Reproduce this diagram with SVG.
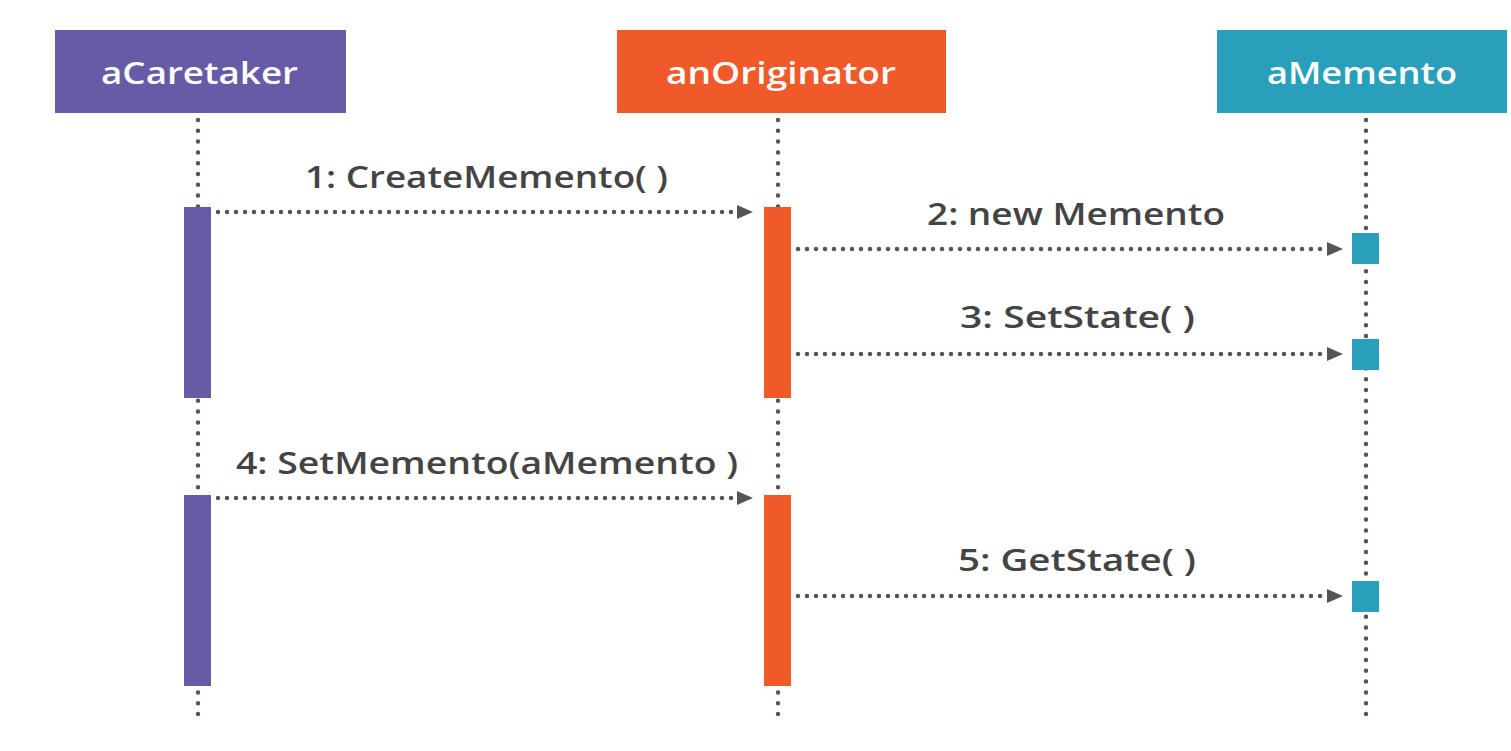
<svg xmlns="http://www.w3.org/2000/svg" width="1511" height="751" viewBox="0 0 1511 751">
<defs>
<style>
.hdr{font-family:"Open Sans","Liberation Sans",sans-serif;font-size:31px;font-weight:600;fill:#ffffff;text-anchor:middle}
.lbl{font-family:"Open Sans","Liberation Sans",sans-serif;font-size:31px;font-weight:600;fill:#444444;text-anchor:middle}
.life{stroke:#555555;stroke-width:4.5;stroke-linecap:round;stroke-dasharray:0 10.8;fill:none}
.msg{stroke:#555555;stroke-width:4.5;stroke-linecap:round;stroke-dasharray:0 9;fill:none}
.p{fill:#675BA7}.o{fill:#F05A2A}.t{fill:#2A9FBC}
.ah{fill:#555555}
</style>
</defs>
<rect width="1511" height="751" fill="#ffffff"/>
<g id="lifelines">
<line class="life" x1="198" y1="120" x2="198" y2="721"/>
<line class="life" x1="778" y1="120" x2="778" y2="721"/>
<line class="life" x1="1366" y1="120" x2="1366" y2="721"/>
</g>
<g id="aCaretaker">
<rect class="p" x="55" y="30" width="291" height="83"/>
<text class="hdr" x="199.5" y="84" textLength="197" lengthAdjust="spacingAndGlyphs">aCaretaker</text>
<rect class="p" x="184" y="207" width="27" height="191"/>
<rect class="p" x="184" y="495" width="27" height="191"/>
</g>
<g id="anOriginator">
<rect class="o" x="617" y="30" width="329" height="83"/>
<text class="hdr" x="781" y="84" textLength="230" lengthAdjust="spacingAndGlyphs">anOriginator</text>
<rect class="o" x="764" y="207" width="27" height="191"/>
<rect class="o" x="764" y="495" width="27" height="191"/>
</g>
<g id="aMemento">
<rect class="t" x="1217" y="30" width="290" height="83"/>
<text class="hdr" x="1362" y="84" textLength="190" lengthAdjust="spacingAndGlyphs">aMemento</text>
<rect class="t" x="1352" y="233" width="27" height="31"/>
<rect class="t" x="1352" y="339" width="27" height="31"/>
<rect class="t" x="1352" y="581" width="27" height="31"/>
</g>
<g id="connectors">
<line class="msg" x1="218" y1="212" x2="737" y2="212"/><path class="ah" d="M737,205 L753,212 L737,219 Z"/>
<line class="msg" x1="798" y1="249" x2="1327" y2="249"/><path class="ah" d="M1327,242 L1343,249 L1327,256 Z"/>
<line class="msg" x1="798" y1="354" x2="1327" y2="354"/><path class="ah" d="M1327,347 L1343,354 L1327,361 Z"/>
<line class="msg" x1="218" y1="498" x2="737" y2="498"/><path class="ah" d="M737,491 L753,498 L737,505 Z"/>
<line class="msg" x1="798" y1="596" x2="1327" y2="596"/><path class="ah" d="M1327,589 L1343,596 L1327,603 Z"/>
</g>
<g id="labels">
<text class="lbl" x="486.5" y="188" textLength="363" lengthAdjust="spacingAndGlyphs">1: CreateMemento( )</text>
<text class="lbl" x="1076" y="225" textLength="298" lengthAdjust="spacingAndGlyphs">2: new Memento</text>
<text class="lbl" x="1077.5" y="328" textLength="235" lengthAdjust="spacingAndGlyphs">3: SetState( )</text>
<text class="lbl" x="487" y="474" textLength="502" lengthAdjust="spacingAndGlyphs">4: SetMemento(aMemento )</text>
<text class="lbl" x="1077" y="571" textLength="238" lengthAdjust="spacingAndGlyphs">5: GetState( )</text>
</g>
</svg>
